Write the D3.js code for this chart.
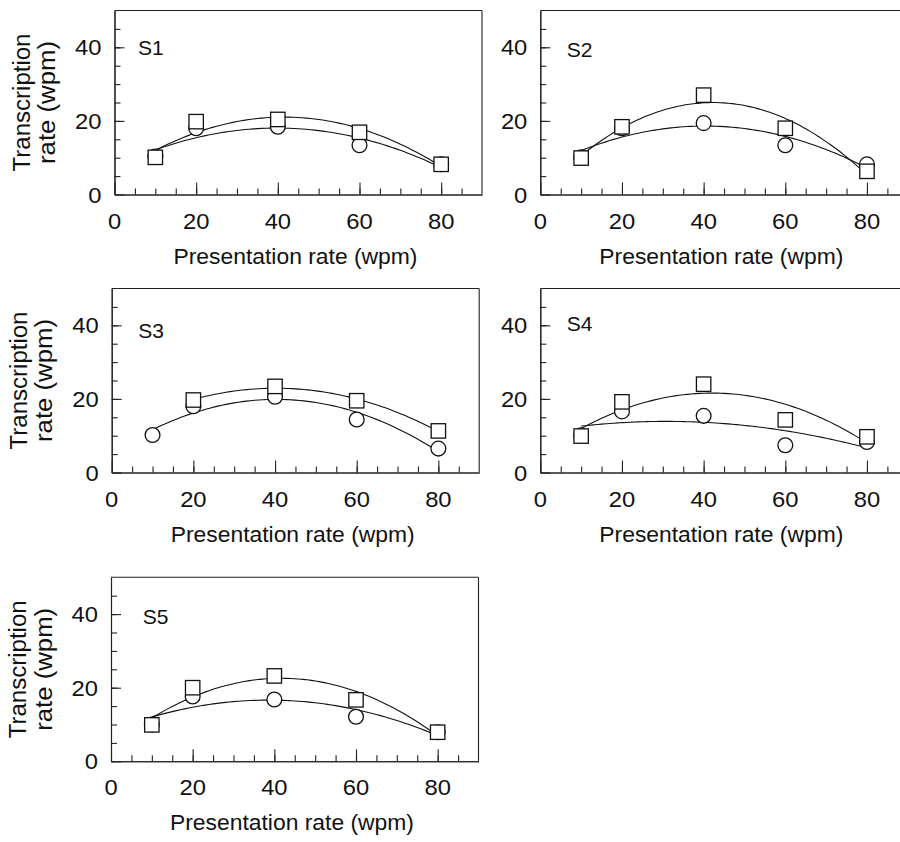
<!DOCTYPE html>
<html lang="en">
<head>
<meta charset="UTF-8">
<title>Transcription rate vs presentation rate</title>
<script src="https://d3js.org/d3.v7.min.js"></script>
<style>
  body { margin: 0; background: #fff; }
  svg { display: block; }
  text { font-family: "Liberation Sans", Arial, Helvetica, sans-serif; fill: #111; }
  .axis path, .axis line { stroke: #222; stroke-width: 1.1; }
  .fit { fill: none; stroke: #111; stroke-width: 1.1; }
  .mark { fill: #fff; stroke: #111; stroke-width: 1.3; }
</style>
</head>
<body>
<svg width="900" height="842"></svg>
<script>
// presentation rates (wpm) on the x axis
var presRates = [10, 20, 40, 60, 80];

// transcription rates (wpm), circles and squares per subject
var s1Circles = [10.3, 18.0, 18.4, 13.4, 8.2];
var s1Squares = [10.1, 19.8, 20.4, 16.9, 8.2];
var s2Circles = [10.1, 18.0, 19.4, 13.4, 8.2];
var s2Squares = [9.9, 18.4, 27.0, 18.0, 6.3];
var s3Circles = [10.2, 18.0, 20.6, 14.4, 6.5];
var s3Squares = [null, 19.7, 23.4, 19.5, 11.3];
var s4Circles = [10.1, 16.6, 15.4, 7.4, 8.3];
var s4Squares = [9.9, 19.2, 24.0, 14.3, 9.7];
var s5Circles = [10.0, 17.6, 16.8, 12.1, 7.9];
var s5Squares = [9.9, 20.0, 23.2, 16.7, 7.9];

var subjects = ["S1", "S2", "S3", "S4", "S5"];
var circleSeries = [s1Circles, s2Circles, s3Circles, s4Circles, s5Circles];
var squareSeries = [s1Squares, s2Squares, s3Squares, s4Squares, s5Squares];

var xMajor = [0, 20, 40, 60, 80];
var yMajor = [0, 20, 40];

// panel placement
var panelPos = [
  { left: 114.5, top: 10.5, ytitle: true,  lx: 23.5, ly: 7.7 },
  { left: 540.3, top: 10.5, ytitle: false, lx: 26.4, ly: 9.4 },
  { left: 111.7, top: 288.5, ytitle: true, lx: 26.6, ly: 12.6 },
  { left: 540.3, top: 288.5, ytitle: false, lx: 26.4, ly: 6 },
  { left: 111,   top: 577.3, ytitle: true, lx: 31.7, ly: 9.7 }
];
var pw = 367.5, ph = 184;

var svg = d3.select("svg");
svg.append("rect").attr("width", 900).attr("height", 842).attr("fill", "#fff");

var x = d3.scaleLinear().domain([0, 90]).range([0, pw]);
var y = d3.scaleLinear().domain([0, 50]).range([ph, 0]);

// least squares quadratic y = a + b x + c x^2
function quadFit(xs, ys) {
  var pts = xs.map(function (v, i) { return [v, ys[i]]; })
    .filter(function (p) { return p[1] != null; });
  var S = [0, 0, 0, 0, 0], T = [0, 0, 0];
  pts.forEach(function (p) {
    for (var k = 0; k < 5; k++) S[k] += Math.pow(p[0], k);
    for (var k = 0; k < 3; k++) T[k] += p[1] * Math.pow(p[0], k);
  });
  var M = [[S[0], S[1], S[2], T[0]], [S[1], S[2], S[3], T[1]], [S[2], S[3], S[4], T[2]]];
  for (var i = 0; i < 3; i++) {
    for (var j = i + 1; j < 3; j++) {
      var f = M[j][i] / M[i][i];
      for (var k = i; k < 4; k++) M[j][k] -= f * M[i][k];
    }
  }
  var c = [0, 0, 0];
  for (var i = 2; i >= 0; i--) {
    var s = M[i][3];
    for (var k = i + 1; k < 3; k++) s -= M[i][k] * c[k];
    c[i] = s / M[i][i];
  }
  var xmin = d3.min(pts, function (p) { return p[0]; }),
      xmax = d3.max(pts, function (p) { return p[0]; });
  return { f: function (v) { return c[0] + c[1] * v + c[2] * v * v; }, x0: xmin, x1: xmax };
}

var line = d3.line()
  .x(function (d) { return x(d[0]); })
  .y(function (d) { return y(d[1]); })
  .curve(d3.curveBasis);

subjects.forEach(function (name, i) {
  var pos = panelPos[i];
  var g = svg.append("g").attr("transform", "translate(" + pos.left + "," + pos.top + ")");

  // frame
  g.append("line").attr("x1", 0).attr("x2", pw).attr("y1", 0).attr("y2", 0)
    .attr("stroke", "#222").attr("stroke-width", 1.1);
  g.append("line").attr("x1", pw).attr("x2", pw).attr("y1", 0).attr("y2", ph)
    .attr("stroke", "#222").attr("stroke-width", 1.1);

  // axes, ticks point inward
  g.append("g").attr("class", "axis").attr("transform", "translate(0," + ph + ")")
    .call(d3.axisBottom(x).tickValues(d3.range(5, 90, 5)).tickSize(-6).tickSizeOuter(0).tickFormat(""));
  g.append("g").attr("class", "axis").attr("transform", "translate(0," + ph + ")")
    .call(d3.axisBottom(x).tickValues(xMajor).tickSize(-12).tickSizeOuter(0).tickFormat(""));
  g.append("g").attr("class", "axis")
    .call(d3.axisLeft(y).tickValues(d3.range(5, 50, 5)).tickSize(-6).tickSizeOuter(0).tickFormat(""));
  g.append("g").attr("class", "axis")
    .call(d3.axisLeft(y).tickValues(yMajor).tickSize(-10).tickSizeOuter(0).tickFormat(""));

  // tick labels
  xMajor.forEach(function (v) {
    g.append("text").attr("transform", "translate(" + x(v) + "," + (ph + 34) + ") scale(1.08,1)")
      .attr("text-anchor", "middle").attr("font-size", 22).text(v);
  });
  yMajor.forEach(function (v) {
    g.append("text").attr("transform", "translate(-13," + (y(v) + 8) + ") scale(1.08,1)")
      .attr("text-anchor", "end").attr("font-size", 22).text(v);
  });

  // axis titles
  g.append("text").attr("x", 181).attr("y", ph + 69).attr("text-anchor", "middle")
    .attr("font-size", 21.5).attr("textLength", 244).attr("lengthAdjust", "spacingAndGlyphs")
    .text("Presentation rate (wpm)");
  if (pos.ytitle) {
    g.append("text").attr("transform", "translate(-85," + (ph / 2) + ") rotate(-90)")
      .attr("text-anchor", "middle").attr("font-size", 23)
      .attr("textLength", 138).attr("lengthAdjust", "spacingAndGlyphs").text("Transcription");
    g.append("text").attr("transform", "translate(-59.5," + (ph / 2) + ") rotate(-90)")
      .attr("text-anchor", "middle").attr("font-size", 23)
      .attr("textLength", 123).attr("lengthAdjust", "spacingAndGlyphs").text("rate (wpm)");
  }

  // subject label
  g.append("text").attr("x", x(0) + pos.lx).attr("y", y(40) + pos.ly)
    .attr("font-size", 21).text(name);

  // fitted curves
  [circleSeries[i], squareSeries[i]].forEach(function (vals) {
    var fit = quadFit(presRates, vals);
    var pts = d3.range(fit.x0, fit.x1 + 0.001, 1).map(function (v) { return [v, fit.f(v)]; });
    g.append("path").attr("class", "fit").attr("d", line(pts));
  });

  // markers
  var cData = presRates.map(function (v, k) { return [v, circleSeries[i][k]]; })
    .filter(function (d) { return d[1] != null; });
  var sData = presRates.map(function (v, k) { return [v, squareSeries[i][k]]; })
    .filter(function (d) { return d[1] != null; });

  g.selectAll(".circ").data(cData).enter().append("circle")
    .attr("class", "mark circ")
    .attr("cx", function (d) { return x(d[0]); })
    .attr("cy", function (d) { return y(d[1]); })
    .attr("r", 7.4);
  g.selectAll(".sq").data(sData).enter().append("rect")
    .attr("class", "mark sq")
    .attr("x", function (d) { return x(d[0]) - 7.2; })
    .attr("y", function (d) { return y(d[1]) - 7.2; })
    .attr("width", 14.4).attr("height", 14.4);
});
</script>
</body>
</html>
